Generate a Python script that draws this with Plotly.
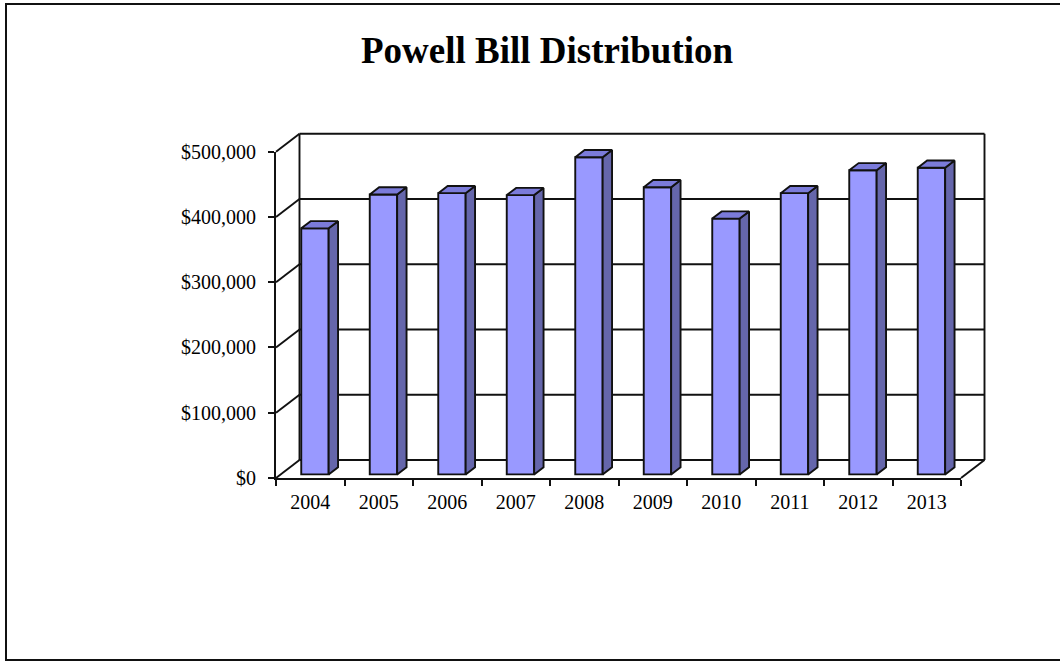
import plotly.graph_objects as go

# ---- data ----
years = ["2004", "2005", "2006", "2007", "2008", "2009", "2010", "2011", "2012", "2013"]
amounts = [377000, 429000, 431000, 428000, 486000, 440000, 392000, 431000, 466000, 470000]
value_ticks = [0, 100000, 200000, 300000, 400000, 500000]
value_labels = ["${:,}".format(v) for v in value_ticks]

# ---- geometry of the pseudo-3D frame ----
W, H = 1060, 662
X0_PX = 276            # pixel of the front-left corner
SLOT_PX = 68.5         # pixels per category slot
Y0_PX = 478            # pixel of the front floor edge
Y_SPAN_PX = 326.3      # pixels for the full value range
V_MAX = 500000
Y_PER_UNIT = Y_SPAN_PX / V_MAX
DEPTH_X_PX, DEPTH_Y_PX = 23.5, 18.0

DX = DEPTH_X_PX / SLOT_PX          # depth offset in category units
DY = DEPTH_Y_PX / Y_PER_UNIT       # depth offset in value units
BAR_W = 0.4
BAR_FRONT, BAR_BACK = 0.2, 0.6     # bar position along the depth
N = len(years)

FRONT = "#9999FF"
TOP = "#7B7BDA"
SIDE = "#6566AB"
EDGE = "#111111"
FONT = "Liberation Serif"
LW = 1.9


def x_of(px):
    return (px - X0_PX) / SLOT_PX


def y_of(py):
    return (Y0_PX - py) / Y_PER_UNIT


L_PX, R_PX, T_PX, B_PX = 262, 1000, 124, 488

fig = go.Figure()

# front faces of the columns
centers = [i + 0.5 + BAR_FRONT * DX for i in range(N)]
fig.add_trace(go.Bar(
    x=centers, y=amounts, base=BAR_FRONT * DY, width=BAR_W,
    marker=dict(color=FRONT, line=dict(color=EDGE, width=LW)),
    xaxis="x", yaxis="y", hoverinfo="skip", showlegend=False,
))

# top and side faces, derived from each column's value
ddx = (BAR_BACK - BAR_FRONT) * DX
ddy = (BAR_BACK - BAR_FRONT) * DY
top_x, top_y, side_x, side_y = [], [], [], []
for c, v in zip(centers, amounts):
    xl, xr = c - BAR_W / 2, c + BAR_W / 2
    b = BAR_FRONT * DY
    t = b + v
    top_x += [xl, xl + ddx, xr + ddx, xr, xl, None]
    top_y += [t, t + ddy, t + ddy, t, t, None]
    side_x += [xr, xr, xr + ddx, xr + ddx, xr, None]
    side_y += [b, t, t + ddy, b + ddy, b, None]

for xs, ys, col in ((side_x, side_y, SIDE), (top_x, top_y, TOP)):
    fig.add_trace(go.Scatter(
        x=xs, y=ys, mode="lines", fill="toself", fillcolor=col,
        line=dict(color=EDGE, width=LW), xaxis="x", yaxis="y",
        hoverinfo="skip", showlegend=False,
    ))

# empty trace so the front-plane axes (ticks and labels) get drawn
fig.add_trace(go.Scatter(x=[None], y=[None], mode="markers", xaxis="x2", yaxis="y2",
                         hoverinfo="skip", showlegend=False))

# back wall gridlines, left wall diagonals and frame edges
line_style = dict(color=EDGE, width=LW)
shapes = []
for g in value_ticks:
    shapes.append(dict(type="line", xref="x", yref="y", layer="below",
                       x0=DX, y0=g + DY, x1=N + DX, y1=g + DY, line=line_style))
    shapes.append(dict(type="line", xref="x", yref="y", layer="below",
                       x0=0, y0=g, x1=DX, y1=g + DY, line=line_style))
for xv in (DX, N + DX):
    shapes.append(dict(type="line", xref="x", yref="y", layer="below",
                       x0=xv, y0=DY, x1=xv, y1=V_MAX + DY, line=line_style))
shapes.append(dict(type="line", xref="x", yref="y", layer="below",
                   x0=N, y0=0, x1=N + DX, y1=DY, line=line_style))

# outer chart border
shapes.append(dict(type="rect", xref="paper", yref="paper",
                   x0=6 / W, x1=1.02, y0=1 - 660 / H, y1=1 - 4 / H,
                   line=dict(color=EDGE, width=2), fillcolor="rgba(0,0,0,0)"))

fig.update_layout(
    width=W, height=H,
    margin=dict(l=0, r=0, t=0, b=0, autoexpand=False),
    paper_bgcolor="white", plot_bgcolor="rgba(0,0,0,0)",
    showlegend=False,
    shapes=shapes,
    xaxis=dict(domain=[L_PX / W, R_PX / W], range=[x_of(L_PX), x_of(R_PX)],
               visible=False, fixedrange=True, automargin=False),
    yaxis=dict(domain=[1 - B_PX / H, 1 - T_PX / H], range=[y_of(B_PX), y_of(T_PX)],
               visible=False, fixedrange=True, automargin=False),
    xaxis2=dict(domain=[X0_PX / W, (X0_PX + N * SLOT_PX) / W], range=[0, N],
                anchor="y2", fixedrange=True, automargin=False,
                tickmode="array", tickvals=[i + 0.5 for i in range(N)], ticktext=years,
                ticks="", showgrid=False, zeroline=False,
                showline=True, linecolor=EDGE, linewidth=LW,
                minor=dict(tickmode="array", tickvals=list(range(N + 1)),
                           ticks="outside", ticklen=6, tickwidth=LW, tickcolor=EDGE,
                           showgrid=False),
                ticklabelstandoff=5,
                tickfont=dict(family=FONT, size=20, color="black")),
    yaxis2=dict(domain=[1 - Y0_PX / H, 1 - (Y0_PX - Y_SPAN_PX) / H], range=[0, V_MAX],
                anchor="x2", fixedrange=True, automargin=False,
                tickmode="array", tickvals=value_ticks, ticktext=value_labels,
                ticks="outside", ticklen=6, tickwidth=LW, tickcolor=EDGE,
                showgrid=False, zeroline=False,
                showline=True, linecolor=EDGE, linewidth=LW,
                ticklabelstandoff=8,
                tickfont=dict(family=FONT, size=20, color="black")),
    annotations=[dict(
        text="Powell Bill Distribution", xref="paper", yref="paper",
        x=547 / W, y=1 - 50 / H, xanchor="center", yanchor="middle",
        showarrow=False,
        font=dict(family=FONT, size=37, color="black", weight="bold"),
    )],
)

fig.write_html("out.html")
